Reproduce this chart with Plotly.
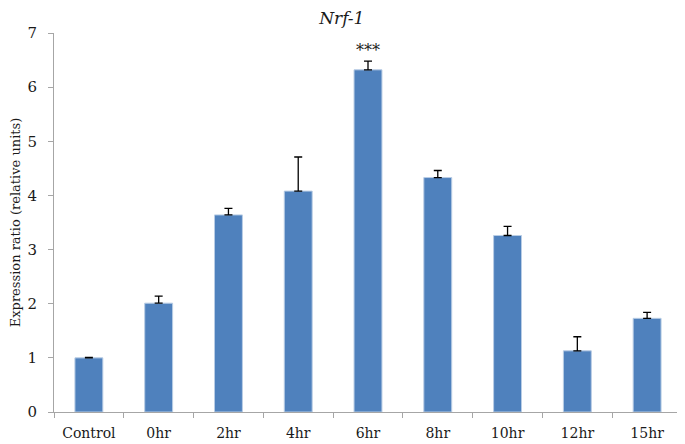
import plotly.graph_objects as go

categories = ['Control', '0hr', '2hr', '4hr', '6hr', '8hr', '10hr', '12hr', '15hr']
expression = [1.00, 2.01, 3.64, 4.08, 6.32, 4.33, 3.26, 1.13, 1.73]
errors = [0.01, 0.13, 0.12, 0.63, 0.16, 0.13, 0.17, 0.26, 0.11]
marks = ['', '', '', '', '***', '', '', '', '']

serif = 'DejaVu Serif, Liberation Serif, serif'
ink = '#1a1a1a'

fig = go.Figure()
fig.add_trace(go.Bar(
    x=categories, y=expression,
    width=0.4,
    marker=dict(color='#4F81BD', line=dict(color='#B9CDE5', width=1)),
    error_y=dict(type='data', array=errors, arrayminus=[0] * len(errors),
                 symmetric=False, color='black', thickness=1.3, width=4),
))

# significance marks above the error bars
for cat, val, err, m in zip(categories, expression, errors, marks):
    if m:
        fig.add_annotation(x=cat, y=val + err, text=m, showarrow=False,
                           yanchor='bottom', yshift=-1,
                           font=dict(family=serif, size=16, color=ink))

fig.update_layout(
    width=677, height=436,
    paper_bgcolor='white', plot_bgcolor='white',
    margin=dict(l=46, r=3, t=25, b=32, autoexpand=False),
    showlegend=False,
    title=dict(text='<i>Nrf-1</i>', x=0.493, xanchor='center', y=0.978, yanchor='middle',
               font=dict(family=serif, size=17, color=ink)),
    font=dict(family=serif, size=14, color=ink),
)
fig.update_xaxes(
    type='category', range=[-0.5, 8.5],
    showline=True, linecolor='#A6A6A6', linewidth=1,
    ticks='outside', tickson='boundaries', ticklen=5, tickcolor='#A6A6A6',
    ticklabelstandoff=8,
    showgrid=False, tickfont=dict(family=serif, size=14, color=ink),
)
fig.update_yaxes(
    range=[0, 7], dtick=1, showgrid=False, zeroline=False,
    showline=True, linecolor='#A6A6A6', linewidth=1,
    ticks='outside', ticklen=5, tickcolor='#A6A6A6',
    ticklabelstandoff=8,
    tickfont=dict(family=serif, size=15, color=ink),
    title=dict(text='Expression ratio (relative units)', standoff=10,
               font=dict(family=serif, size=13, color=ink)),
)
fig.write_html("out.html")
